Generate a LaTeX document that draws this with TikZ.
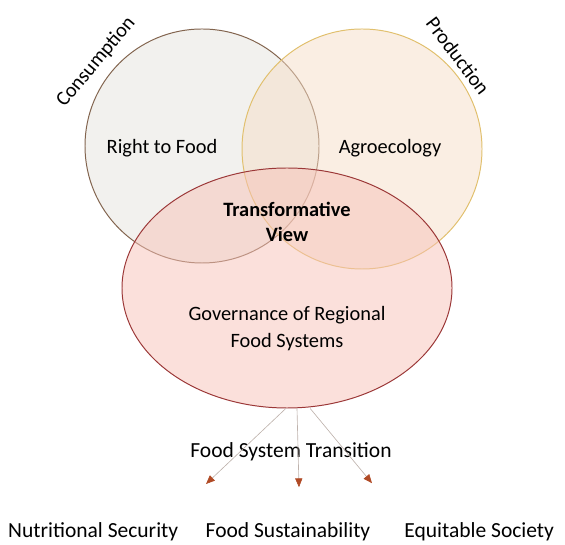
\documentclass[tikz,border=0pt]{standalone}
\usepackage{fontspec}
\setmainfont{Carlito}
\usepackage{tikz}
\usetikzlibrary{arrows.meta, positioning, shapes.geometric}

\definecolor{rtfFill}{RGB}{229,227,221}
\definecolor{rtfLine}{RGB}{130,100,78}
\definecolor{agroFill}{RGB}{245,221,199}
\definecolor{agroLine}{RGB}{225,192,110}
\definecolor{govFill}{RGB}{247,193,183}
\definecolor{govLine}{RGB}{155,55,55}
\definecolor{tipRed}{RGB}{176,74,37}
\definecolor{stemGray}{RGB}{190,178,172}

\begin{document}
\begin{tikzpicture}[
    txt/.style={font=\fontsize{14.5}{19}\selectfont, align=center, inner sep=1pt},
    outcome/.style={font=\fontsize{15.3}{19}\selectfont, inner sep=1pt},
    area/.style={draw, line width=0.7pt, fill opacity=0.5, draw opacity=1},
    flow/.style={draw=stemGray, line width=0.45pt, -{Triangle[length=2.2mm, width=1.8mm, color=tipRed]}}
]
    \useasboundingbox (0,0) rectangle (14.125,13.6);

    \node[area, circle, draw=rtfLine, fill=rtfFill, minimum size=5.85cm] (rtf) at (5.05,9.95) {};
    \node[area, circle, draw=agroLine, fill=agroFill, minimum size=6cm] (agro) at (9.05,9.875) {};
    \node[area, ellipse, draw=govLine, fill=govFill, minimum width=8.25cm, minimum height=6cm] (gov) at (7.175,6.4) {};

    \node[txt, rotate=50] (cons) at (2.4,12.05) {Consumption};
    \node[txt, rotate=-53] (prod) at (11.45,12.2) {Production};

    \node[txt] (rtf_txt) at (4.05,9.9) {Right to Food};
    \node[txt] (agro_txt) at (9.75,9.9) {Agroecology};
    \node[txt, font=\fontsize{14.5}{17.7}\selectfont\bfseries] (tv) at (7.175,8.05) {Transformative\\View};
    \node[txt] (gov_txt) at (7.175,5.39) {Governance of Regional\\Food Systems};

    \node[outcome] (fst) at (7.275,2.3) {Food System Transition};

    \coordinate (end_ns) at (5.15,1.5);
    \coordinate (end_fs) at (7.475,1.42);
    \coordinate (end_es) at (9.3,1.52);
    \draw[flow] ([xshift=-0.3mm]gov.south) -- (end_ns);
    \draw[flow] ([xshift=2.5mm]gov.south) -- (end_fs);
    \draw[flow] ([xshift=5.8mm]gov.south) -- (end_es);

    \node[outcome] (ns) at (2.33,0.3) {Nutritional Security};
    \node[outcome] (fsu) at (7.2,0.3) {Food Sustainability};
    \node[outcome] (es) at (11.98,0.3) {Equitable Society};
\end{tikzpicture}
\end{document}
